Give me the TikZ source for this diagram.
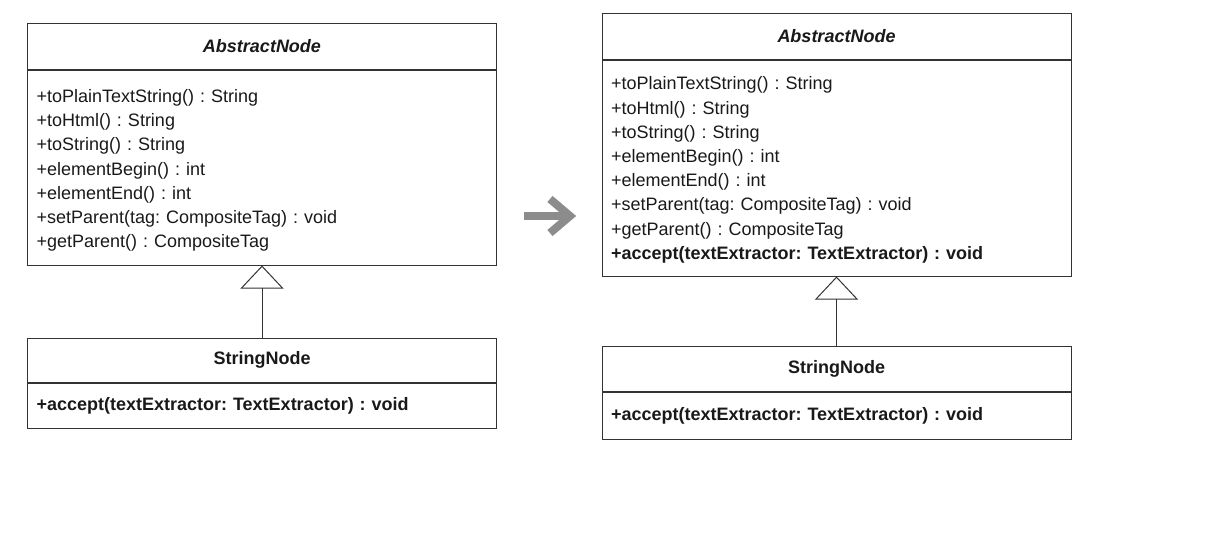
\documentclass[tikz,border=0pt]{standalone}
\usepackage{fontspec}
\setmainfont{Liberation Sans}
\frenchspacing
\usetikzlibrary{arrows.meta}

\def\classwidth{469pt}

\begin{document}
\begin{tikzpicture}[x=1pt,y=-1pt,draw=black!80,line width=1pt]
    \tikzstyle{every node}=[font=\fontsize{18}{24.2}\selectfont, text=black!90]
    \tikzstyle{head}=[draw,minimum width=\classwidth,inner sep=0pt]
    \tikzstyle{body}=[draw,text width=451pt,inner xsep=9pt,inner ysep=0pt,align=left,anchor=north]
    \tikzstyle{extends}=[-{Triangle[open,length=23pt,width=43pt]}]
    \tikzstyle{shift arrow}=[draw=black!45,line width=8pt]

    \useasboundingbox (0,0) rectangle (1230,554);

    % before
    \node[head,minimum height=46pt] (L-1) at (262,46) {\textbf{\textit{AbstractNode}}};
    \node[body,minimum height=195pt] (L-2) at (L-1.south) {\rule{0pt}{19pt}%
        +toPlainTextString() : String\\
        +toHtml() : String\\
        +toString() : String\\
        +elementBegin() : int\\
        +elementEnd() : int\\
        +setParent(tag: CompositeTag) : void\\
        +getParent() : CompositeTag};

    \node[head,minimum height=44pt] (L-3) at (262,360) {\textbf{StringNode}};
    \node[body,minimum height=45pt] (L-4) at (L-3.south) {\textbf{+accept(textExtractor: TextExtractor) : void}};

    \draw[extends] (L-3) -- (L-2);

    % after
    \node[head,minimum height=46pt] (R-1) at (836.5,36) {\textbf{\textit{AbstractNode}}};
    \node[body,minimum height=216pt] (R-2) at (R-1.south) {\rule{0pt}{17pt}%
        +toPlainTextString() : String\\
        +toHtml() : String\\
        +toString() : String\\
        +elementBegin() : int\\
        +elementEnd() : int\\
        +setParent(tag: CompositeTag) : void\\
        +getParent() : CompositeTag\\
        \textbf{+accept(textExtractor: TextExtractor) : void}};

    \node[head,minimum height=45pt] (R-3) at (836.5,368.5) {\textbf{StringNode}};
    \node[body,minimum height=47pt] (R-4) at (R-3.south) {\textbf{+accept(textExtractor: TextExtractor) : void}};

    \draw[extends] (R-3) -- (R-2);

    % refactoring arrow
    \draw[shift arrow] (524,216) -- (566,216);
    \draw[shift arrow] (550,199) -- (570,216) -- (550,233);

\end{tikzpicture}
\end{document}
